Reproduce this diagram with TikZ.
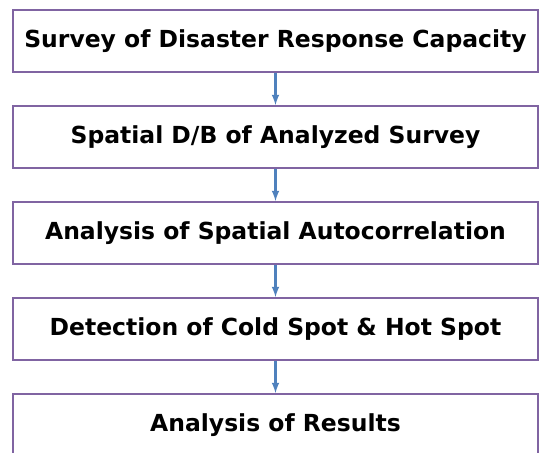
\documentclass[tikz,border=0pt]{standalone}
\usepackage{fontspec}
\setmainfont{DejaVu Sans}
\usetikzlibrary{arrows, positioning}
\definecolor{boxline}{RGB}{128,100,162}
\definecolor{arrowblue}{RGB}{79,129,189}

\begin{document}
\begin{tikzpicture}[node distance = 24pt]
\tikzstyle{main} = [rectangle, minimum width = 393.75pt, minimum height = 46.5pt, line width = 1.5pt, draw = boxline, fill = white, font = \fontsize{17.6}{20}\selectfont\bfseries]
\tikzstyle{connect} = [-latex, line width = 1.6pt, draw = arrowblue]
\useasboundingbox (0,0) rectangle (405pt,-339.75pt);
  \node[main, below right = 6.75pt and 9pt of {(0,0)}, anchor = north west] (survey) {Survey of Disaster Response Capacity};
  \node[main, below=of survey] (spatial) {Spatial D/B of Analyzed Survey};
  \node[main, below=of spatial] (autocorr) {Analysis of Spatial Autocorrelation};
  \node[main, below=of autocorr] (spots) {Detection of Cold Spot \& Hot Spot};
  \node[main, below=of spots] (results) {Analysis of Results};
\path (survey) edge [connect] (spatial) (spatial) edge [connect] (autocorr)
      (autocorr) edge [connect] (spots) (spots) edge [connect] (results);
\end{tikzpicture}
\end{document}
